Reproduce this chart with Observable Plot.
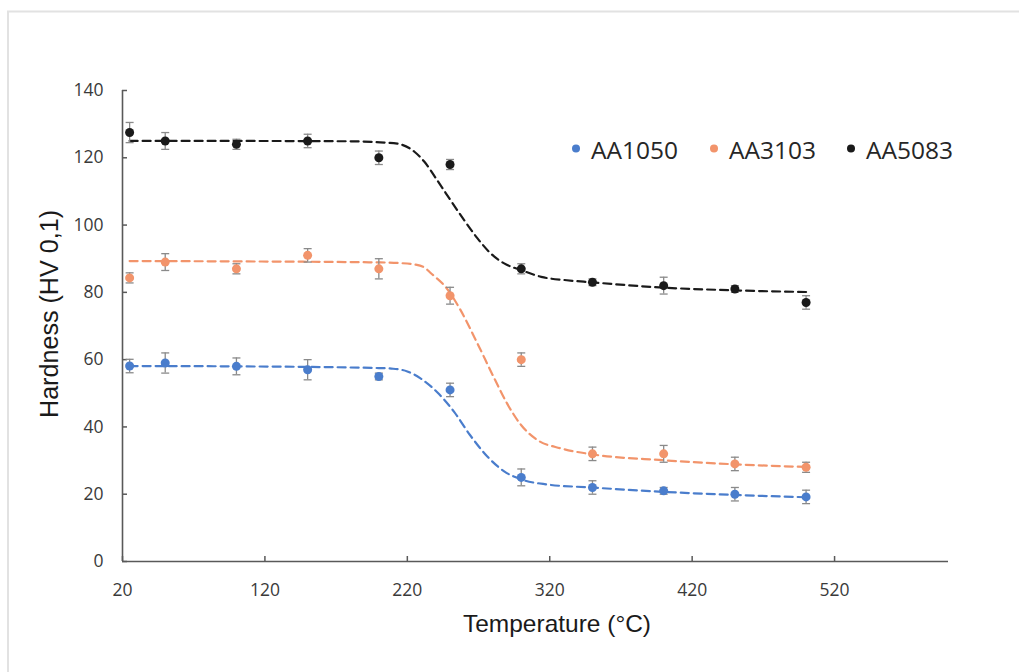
<!DOCTYPE html>
<html>
<head>
<meta charset="utf-8">
<script src="https://cdn.jsdelivr.net/npm/d3@7"></script>
<script src="https://cdn.jsdelivr.net/npm/@observablehq/plot@0.6"></script>
<style>
  body { margin: 0; background: #fff; }
  #wrap { position: relative; width: 1019px; height: 672px; overflow: hidden; background: #fff; }
  #wrap > svg { position: absolute; left: 0; top: 0; }
</style>
</head>
<body>
<div id="wrap"></div>
<script>
// ---------- data ----------
const temperatures = [25, 50, 100, 150, 200, 250, 300, 350, 400, 450, 500];
const seriesNames = ["AA1050", "AA3103", "AA5083"];
const seriesColors = ["#4a7dcc", "#f2946b", "#1a1a1a"];

const hv_AA1050 = [58.1, 59, 58, 57, 55, 51, 25, 22, 21, 20, 19.2];
const err_AA1050 = [2, 3, 2.5, 3, 1, 2, 2.5, 2, 1, 2, 2];
const hv_AA3103 = [84.3, 89, 87, 91, 87, 79, 60, 32, 32, 29, 28];
const err_AA3103 = [1.5, 2.5, 1.5, 2, 3, 2.5, 2, 2, 2.5, 2, 1.5];
const hv_AA5083 = [127.5, 125, 124, 125, 120, 118, 87, 83, 82, 81, 77];
const err_AA5083 = [3, 2.5, 1.5, 2, 2, 1.5, 1.5, 1, 2.5, 1, 2];

// fitted (dashed) curves
const fitT_AA1050 = [25, 100, 200, 210, 220, 229, 241, 253, 264, 276, 288, 300, 318, 349, 400, 449, 500];
const fitH_AA1050 = [58.1, 58, 57.5, 57.3, 56.5, 54.5, 50.3, 44.4, 37.6, 31.3, 26.8, 24.4, 22.9, 22, 20.7, 19.8, 19.1];
const fitT_AA3103 = [25, 100, 200, 215, 225, 232, 236, 248, 257, 269, 281, 290, 300, 311, 328, 349, 400, 449, 500];
const fitH_AA3103 = [89.3, 89.2, 88.9, 88.7, 88.3, 87.4, 85.9, 81.0, 75.0, 65.0, 54.5, 47.0, 40.5, 36.2, 33.6, 31.9, 30.1, 28.9, 28.1];
const fitT_AA5083 = [25, 100, 180, 201, 213, 225, 232, 241, 250, 260, 269, 278, 288, 300, 314, 332, 349, 400, 449, 500];
const fitH_AA5083 = [125, 125, 124.9, 124.6, 124.2, 121.8, 118.8, 113.3, 107.6, 101.4, 96.2, 91.8, 88.6, 86.6, 84.6, 83.6, 83.0, 81.4, 80.6, 80.1];

const xTicks = [20, 120, 220, 320, 420, 520];
const yTicks = [0, 20, 40, 60, 80, 100, 120, 140];

// ---------- tables ----------
const hvs = [hv_AA1050, hv_AA3103, hv_AA5083];
const errs = [err_AA1050, err_AA3103, err_AA5083];
const points = seriesNames.flatMap((s, i) =>
  temperatures.map((t, j) => ({series: s, t, hv: hvs[i][j], err: errs[i][j]})));
const fitTs = [fitT_AA1050, fitT_AA3103, fitT_AA5083];
const fitHs = [fitH_AA1050, fitH_AA3103, fitH_AA5083];
const fits = seriesNames.flatMap((s, i) => fitTs[i].map((t, j) => ({series: s, t, hv: fitHs[i][j]})));

const capSymbol = { draw(ctx) { ctx.moveTo(-4, 0); ctx.lineTo(4, 0); } };
const colorScale = {domain: seriesNames, range: seriesColors};

const chart = Plot.plot({
  width: 1019,
  height: 672,
  marginLeft: 122,
  marginRight: 71,
  marginTop: 90,
  marginBottom: 111,
  x: {domain: [20, 600]},
  y: {domain: [0, 140]},
  color: colorScale,
  style: {fontFamily: "'Open Sans', sans-serif", fontSize: "17.5px", color: "#3a3a3a", background: "transparent"},
  marks: [
    Plot.axisX(xTicks, {tickSize: -5, tickPadding: 27, stroke: "#595959", strokeWidth: 1.5, fill: "#3a3a3a", label: null}),
    Plot.axisY(yTicks, {tickSize: -5, tickPadding: 24, stroke: "#595959", strokeWidth: 1.5, fill: "#3a3a3a", label: null}),
    Plot.ruleX([20], {stroke: "#595959", strokeWidth: 1.6}),
    Plot.ruleY([0], {stroke: "#595959", strokeWidth: 1.6}),
    Plot.line(fits, {x: "t", y: "hv", z: "series", stroke: "series", strokeWidth: 2.2, strokeDasharray: "8,5", curve: "monotone-x"}),
    Plot.ruleX(points, {x: "t", y1: d => d.hv - d.err, y2: d => d.hv + d.err, stroke: "#8a8a8a", strokeWidth: 1.3}),
    Plot.dot(points, {x: "t", y: d => d.hv + d.err, symbol: capSymbol, stroke: "#8a8a8a", strokeWidth: 1.3, fill: "none"}),
    Plot.dot(points, {x: "t", y: d => d.hv - d.err, symbol: capSymbol, stroke: "#8a8a8a", strokeWidth: 1.3, fill: "none"}),
    Plot.dot(points, {x: "t", y: "hv", fill: "series", r: 4.5})
  ]
});

const wrap = document.getElementById("wrap");
wrap.appendChild(chart);

// ---------- overlay: border, titles, legend ----------
const ov = d3.select(wrap).append("svg").attr("width", 1019).attr("height", 672);
ov.append("path").attr("d", "M8,1019 V11.5 H1019").attr("fill", "none").attr("stroke", "#e2e2e2").attr("stroke-width", 2);

ov.append("text").attr("x", 557).attr("y", 631.5).attr("text-anchor", "middle")
  .attr("font-family", "'Liberation Sans', Arial, sans-serif").attr("font-size", 24)
  .attr("fill", "#1a1a1a").attr("textLength", 188).attr("lengthAdjust", "spacingAndGlyphs")
  .text("Temperature (°C)");

ov.append("text").attr("transform", "translate(58,314) rotate(-90)").attr("text-anchor", "middle")
  .attr("font-family", "'Liberation Sans', Arial, sans-serif").attr("font-size", 25)
  .attr("fill", "#1a1a1a").attr("textLength", 208).attr("lengthAdjust", "spacingAndGlyphs")
  .text("Hardness (HV 0,1)");

const legX = [576, 714, 851];
seriesNames.forEach((s, i) => {
  ov.append("circle").attr("cx", legX[i]).attr("cy", 148.5).attr("r", 4).attr("fill", seriesColors[i]);
  ov.append("text").attr("x", legX[i] + 15).attr("y", 159)
    .attr("font-family", "'Open Sans', sans-serif").attr("font-size", 24.5)
    .attr("fill", "#262626").text(s);
});
</script>
</body>
</html>
